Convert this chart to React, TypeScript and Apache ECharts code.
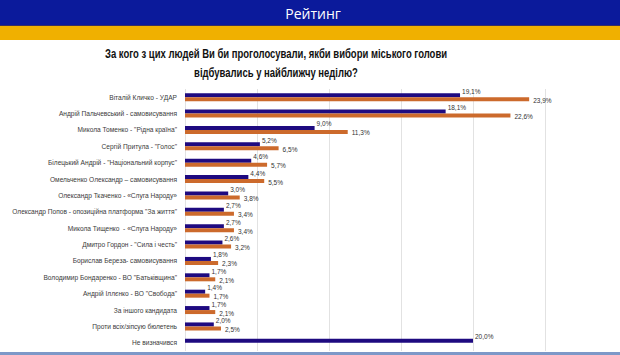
import React, { useEffect, useRef } from "react";
import * as echarts from "echarts";

const categories = [
  "Віталій Кличко - УДАР",
  "Андрій Пальчевський - самовисування",
  "Микола Томенко - \"Рідна країна\"",
  "Сергій Притула - \"Голос\"",
  "Білецький Андрій - \"Національний корпус\"",
  "Омельченко Олександр – самовисування",
  "Олександр Ткаченко - «Слуга Народу»",
  "Олександр Попов - опозиційна платформа \"За життя\"",
  "Микола Тищенко  - «Слуга Народу»",
  "Дмитро Гордон - \"Сила і честь\"",
  "Борислав Береза- самовисування",
  "Володимир Бондаренко - ВО \"Батьківщина\"",
  "Андрій Іллєнко - ВО \"Свобода\"",
  "За іншого кандидата",
  "Проти всіх/зіпсую бюлетень",
  "Не визначився",
];

const seriesAll = [19.1, 18.1, 9.0, 5.2, 4.6, 4.4, 3.0, 2.7, 2.7, 2.6, 1.8, 1.7, 1.4, 1.7, 2.0, 20.0];
const seriesDecided = [23.9, 22.6, 11.3, 6.5, 5.7, 5.5, 3.8, 3.4, 3.4, 3.2, 2.3, 2.1, 1.7, 2.1, 2.5, null];

const headerTitle = "Рейтинг";
const questionLines = [
  "За кого з цих людей Ви би проголосували, якби вибори міського голови",
  "відбувались у найближчу неділю?",
];

const fmt = (v: number) => v.toFixed(1).replace(".", ",") + "%";

export default function App() {
  const ref = useRef<HTMLDivElement>(null);
  useEffect(() => {
    if (!ref.current) return;
    const chart = echarts.init(ref.current, null, { renderer: "svg" });
    const labelFont = "'Liberation Sans', sans-serif";
    chart.setOption({
      animation: false,
      backgroundColor: "#ffffff",
      graphic: [
        { type: "rect", left: 0, top: 0, shape: { width: 620, height: 25 }, style: { fill: "#0b1a9b" }, silent: true },
        { type: "rect", left: 0, top: 25, shape: { width: 620, height: 1 }, style: { fill: "#3a3060" }, silent: true },
        { type: "rect", left: 0, top: 26, shape: { width: 620, height: 14 }, style: { fill: "#f0b000" }, silent: true },
        { type: "rect", left: 0, top: 352, shape: { width: 620, height: 3 }, style: { fill: "#7d98c8" }, silent: true },
        {
          type: "text",
          x: 313,
          y: 13,
          style: {
            text: headerTitle,
            fill: "#ffffff",
            font: "14px 'Open Sans', sans-serif",
            textAlign: "center",
            textVerticalAlign: "middle",
          },
        },
        {
          type: "text",
          x: 276,
          y: 53,
          scaleX: 0.73,
          style: {
            x: 0,
            y: 0,
            text: questionLines[0],
            fill: "#111111",
            font: "bold 13px " + labelFont,
            textAlign: "center",
            textVerticalAlign: "middle",
          },
        },
        {
          type: "text",
          x: 276,
          y: 72,
          scaleX: 0.73,
          style: {
            x: 0,
            y: 0,
            text: questionLines[1],
            fill: "#111111",
            font: "bold 13px " + labelFont,
            textAlign: "center",
            textVerticalAlign: "middle",
          },
        },
      ],
      grid: { left: 185, top: 89, width: 360, height: 262, containLabel: false },
      xAxis: {
        type: "value",
        min: 0,
        max: 25,
        interval: 5,
        axisLabel: { show: false },
        axisLine: { show: false },
        axisTick: { show: false },
        splitLine: { show: true, lineStyle: { color: "#e2e2e2", width: 1 } },
      },
      yAxis: {
        type: "category",
        data: categories,
        inverse: true,
        axisLine: { show: false },
        axisTick: { show: false },
        axisLabel: { color: "#3a3a3a", fontSize: 6.6, fontFamily: labelFont, margin: 8 },
      },
      series: [
        {
          type: "bar",
          data: seriesAll,
          barWidth: 4,
          barGap: "0%",
          itemStyle: { color: "#1e0a80" },
          label: {
            show: true,
            position: "right",
            distance: 2,
            offset: [0, -4],
            color: "#333333",
            fontSize: 6.5,
            fontFamily: labelFont,
            formatter: (p: any) => fmt(p.value),
          },
        },
        {
          type: "bar",
          data: seriesDecided,
          barWidth: 4,
          barGap: "0%",
          itemStyle: { color: "#cc6a2c" },
          label: {
            show: true,
            position: "right",
            distance: 4,
            offset: [0, 1],
            color: "#333333",
            fontSize: 6.5,
            fontFamily: labelFont,
            formatter: (p: any) => (p.value == null ? "" : fmt(p.value)),
          },
        },
      ],
    });
    return () => chart.dispose();
  }, []);
  return <div ref={ref} style={{ width: 620, height: 355, position: "fixed", left: 0, top: 0 }} />;
}
